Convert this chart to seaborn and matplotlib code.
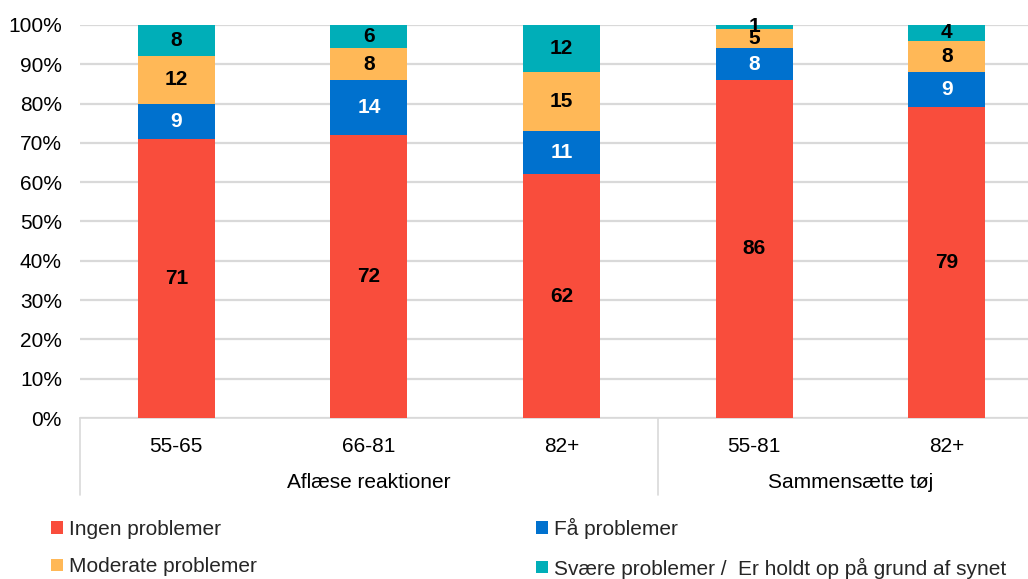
import numpy as np
import pandas as pd
import seaborn as sns
import matplotlib.pyplot as plt
from matplotlib.patches import Patch
from matplotlib.transforms import blended_transform_factory

# Data
groups = ["Aflæse reaktioner", "Sammensætte tøj"]
age_labels = ["55-65", "66-81", "82+", "55-81", "82+"]
group_of_bar = [0, 0, 0, 1, 1]
series_names = ["Ingen problemer", "Få problemer", "Moderate problemer",
                "Svære problemer /  Er holdt op på grund af synet"]
ingen = [71, 72, 62, 86, 79]
faa = [9, 14, 11, 8, 9]
moderate = [12, 8, 15, 5, 8]
svaere = [8, 6, 12, 1, 4]

colors = ["#F94D3C", "#0071CE", "#FFB857", "#00AEB8"]
label_colors = ["black", "white", "black", "black"]
FS = 15

sns.set_theme(style="white")
plt.rcParams["font.family"] = ["Liberation Sans", "DejaVu Sans"]

series = [ingen, faa, moderate, svaere]
keys = [f"b{i}" for i in range(len(age_labels))]
df = pd.DataFrame({"key": keys})
for name, vals in zip(series_names, series):
    df[name] = np.array(vals, dtype=float)

shares = df[series_names].div(df[series_names].sum(axis=1), axis=0) * 100
tops = shares.cumsum(axis=1)
bottoms = tops - shares

fig = plt.figure(figsize=(10.28, 5.79), dpi=100)
ax = fig.add_axes([0.0778, 0.278, 0.9222, 0.679])

# Stacked bars: draw cumulative totals from the top segment down
for name, col in reversed(list(zip(series_names, colors))):
    sns.barplot(x=df["key"], y=tops[name], order=keys, color=col,
                width=0.4, saturation=1, ax=ax, linewidth=0, zorder=3)

# Segment value labels
for j, name in enumerate(series_names):
    for i in range(len(keys)):
        mid = bottoms[name].iloc[i] + shares[name].iloc[i] / 2
        ax.text(i, mid, f"{series[j][i]:g}", ha="center", va="center",
                fontsize=FS, fontweight="bold", color=label_colors[j], zorder=5)

ax.set_ylim(0, 100)
ax.set_xlim(-0.5, (1028 - 80) / 192.6 - 0.5)
ax.set_yticks(np.arange(0, 101, 10))
ax.set_yticklabels([f"{v}%" for v in range(0, 101, 10)])
ax.yaxis.grid(True, color="#D9D9D9", linewidth=1.6, zorder=0)
ax.set_axisbelow(True)
ax.set_xlabel("")
ax.set_ylabel("")
ax.set_xticks(range(len(keys)))
ax.set_xticklabels(age_labels)
ax.tick_params(axis="x", length=0, pad=14, labelsize=FS, colors="black")
ax.tick_params(axis="y", length=0, pad=13, labelsize=FS, colors="black")
for s in ["top", "right", "left"]:
    ax.spines[s].set_visible(False)
ax.spines["bottom"].set_color("#D9D9D9")
ax.spines["bottom"].set_linewidth(1.2)

# Group separators and group labels under the axis
tr = blended_transform_factory(ax.transData, ax.transAxes)
for xb in [-0.5, 2.5, 4.5]:
    ax.plot([xb, xb], [0, -0.196], transform=tr, color="#D9D9D9",
            linewidth=1.2, clip_on=False)
group_centers = {}
for i, g in enumerate(group_of_bar):
    group_centers.setdefault(g, []).append(i)
for g, idx in group_centers.items():
    ax.text(np.mean(idx), -0.165, groups[g], transform=tr, ha="center",
            va="center", fontsize=FS, color="black")

# Legend in two columns (filled column by column)
handles = [Patch(facecolor=c, edgecolor="none") for c in colors]
order = [0, 2, 1, 3]
fig.legend([handles[k] for k in order], [series_names[k] for k in order],
           ncol=2, loc="upper left", bbox_to_anchor=(0.050, 0.106),
           frameon=False, fontsize=FS, handlelength=0.55, handleheight=0.55,
           handletextpad=0.3, labelspacing=0.9, columnspacing=13.4,
           borderaxespad=0, borderpad=0)

fig.savefig("out.png", dpi=100)
